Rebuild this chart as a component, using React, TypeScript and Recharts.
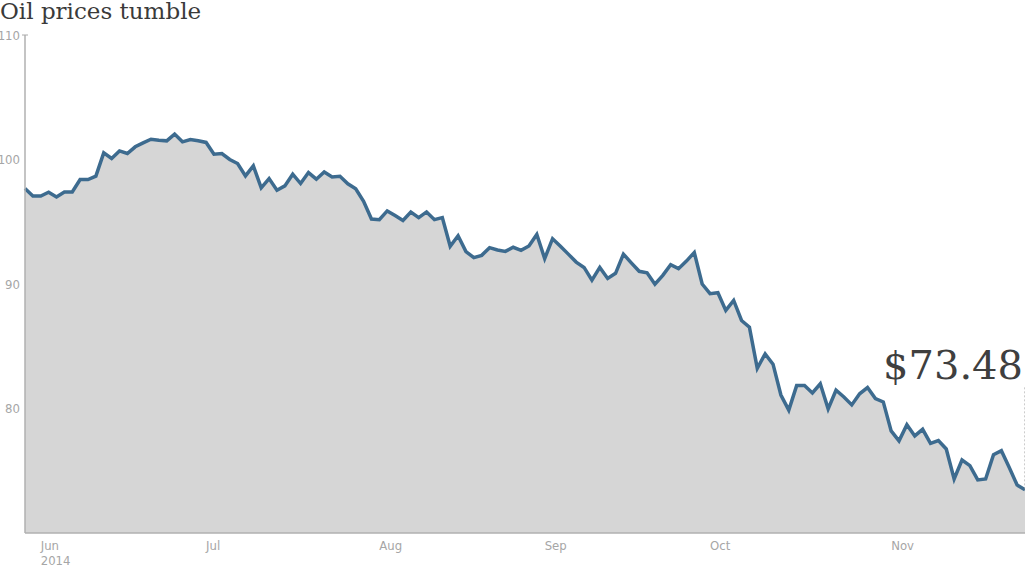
import React from "react";
import { AreaChart, Area, XAxis, YAxis, ReferenceLine } from "recharts";

const prices: number[] = [
  97.67, 97.07, 97.07, 97.37, 96.99, 97.39, 97.39, 98.39, 98.39, 98.66,
  100.53, 100.08, 100.69, 100.48, 101.02, 101.34, 101.63, 101.55, 101.5, 102.04,
  101.42, 101.61, 101.5, 101.37, 100.43, 100.48, 100.0, 99.68, 98.68, 99.49,
  97.72, 98.47, 97.53, 97.88, 98.82, 98.07, 98.95, 98.42, 99.0, 98.6,
  98.65, 98.05, 97.65, 96.65, 95.22, 95.17, 95.87, 95.5, 95.1, 95.77,
  95.33, 95.79, 95.17, 95.33, 93.03, 93.87, 92.6, 92.12, 92.3, 92.92,
  92.73, 92.62, 92.95, 92.7, 93.05, 93.98, 92.04, 93.64, 93.04, 92.4,
  91.76, 91.33, 90.3, 91.33, 90.45, 90.86, 92.4, 91.7, 91.02, 90.9,
  89.98, 90.69, 91.55, 91.23, 91.84, 92.53, 90.0, 89.22, 89.3, 87.88,
  88.68, 87.07, 86.53, 83.23, 84.39, 83.56, 81.08, 79.87, 81.84, 81.84,
  81.25, 81.98, 79.97, 81.47, 80.93, 80.29, 81.18, 81.68, 80.8, 80.53,
  78.2, 77.4, 78.7, 77.8, 78.33, 77.2, 77.42, 76.75, 74.34, 75.86,
  75.41, 74.26, 74.34, 76.29, 76.61, 75.27, 73.85, 73.48,
];

const monthTickIdx: number[] = [2, 23, 45, 66, 87, 110];
const monthLabels: string[] = ["Jun", "Jul", "Aug", "Sep", "Oct", "Nov"];
const yearLabel = "2014";
const yTicks: number[] = [80, 90, 100, 110];
const titleText = "Oil prices tumble";
const lastLabel = "$73.48";
const labelTop = 81.7;

const data = prices.map((p, i) => ({ i, price: p }));

const AXIS_FONT = "'Liberation Sans Narrow', 'DejaVu Sans Condensed', 'Roboto', sans-serif";
const SERIF = "'DejaVu Serif', 'Liberation Serif', serif";

const XTick = (props: any) => {
  const { x, y, payload } = props;
  const k = monthTickIdx.indexOf(payload.value);
  return (
    <g>
      <text x={x} y={y + 9} textAnchor="start" fill="#a6a6a6" fontSize={13} fontFamily={AXIS_FONT}>
        {monthLabels[k]}
      </text>
      {k === 0 && (
        <text x={x} y={y + 24} textAnchor="start" fill="#a6a6a6" fontSize={13} fontFamily={AXIS_FONT}>
          {yearLabel}
        </text>
      )}
    </g>
  );
};

const YTick = (props: any) => {
  const { x, y, payload } = props;
  return (
    <g>
      <text x={x + 3} y={y + 4.5} textAnchor="end" fill="#a6a6a6" fontSize={13} fontFamily={AXIS_FONT}>
        {payload.value}
      </text>
      {payload.value === 110 && <line x1={x + 5} x2={x + 11} y1={y} y2={y} stroke="#aaa" strokeWidth={1} />}
    </g>
  );
};

const PriceLabel = (props: any) => {
  const vb = props.viewBox || {};
  const x = (vb.x ?? 0) - 2;
  const y = (vb.y ?? 0) - 8;
  return (
    <text x={x} y={y} textAnchor="end" fill="#3f3f3f" fontSize={40} fontFamily={SERIF}>
      {lastLabel}
    </text>
  );
};

export default function App() {
  const lastIdx = prices.length - 1;
  return (
    <div style={{ position: "absolute", left: 0, top: 0, width: 1025, height: 566, background: "#fff" }}>
      <div
        style={{
          position: "absolute",
          left: 0,
          top: 0,
          fontFamily: SERIF,
          fontSize: 23,
          lineHeight: "23px",
          color: "#3a3a3a",
          whiteSpace: "nowrap",
        }}
      >
        {titleText}
      </div>
      <AreaChart width={1025} height={566} data={data} margin={{ top: 35, right: 0, bottom: 0, left: 0 }}>
        <XAxis
          dataKey="i"
          type="number"
          domain={[0, lastIdx]}
          ticks={monthTickIdx}
          tick={<XTick />}
          tickLine={false}
          axisLine={{ stroke: "#b0b0b0", strokeWidth: 1.5 }}
          height={33}
          interval={0}
        />
        <YAxis
          type="number"
          domain={[70, 110]}
          ticks={yTicks}
          tick={<YTick />}
          tickLine={false}
          axisLine={{ stroke: "#b0b0b0", strokeWidth: 1.5 }}
          width={25}
          interval={0}
        />
        <Area
          type="linear"
          dataKey="price"
          stroke="#3d6b8f"
          strokeWidth={3.5}
          fill="#d6d6d6"
          fillOpacity={1}
          baseValue={70}
          isAnimationActive={false}
          dot={false}
          activeDot={false}
        />
        <ReferenceLine
          segment={[
            { x: lastIdx, y: labelTop },
            { x: lastIdx, y: prices[lastIdx] },
          ]}
          stroke="#999"
          strokeDasharray="2 2"
          strokeWidth={1}
          ifOverflow="visible"
          label={<PriceLabel />}
        />
      </AreaChart>
    </div>
  );
}
